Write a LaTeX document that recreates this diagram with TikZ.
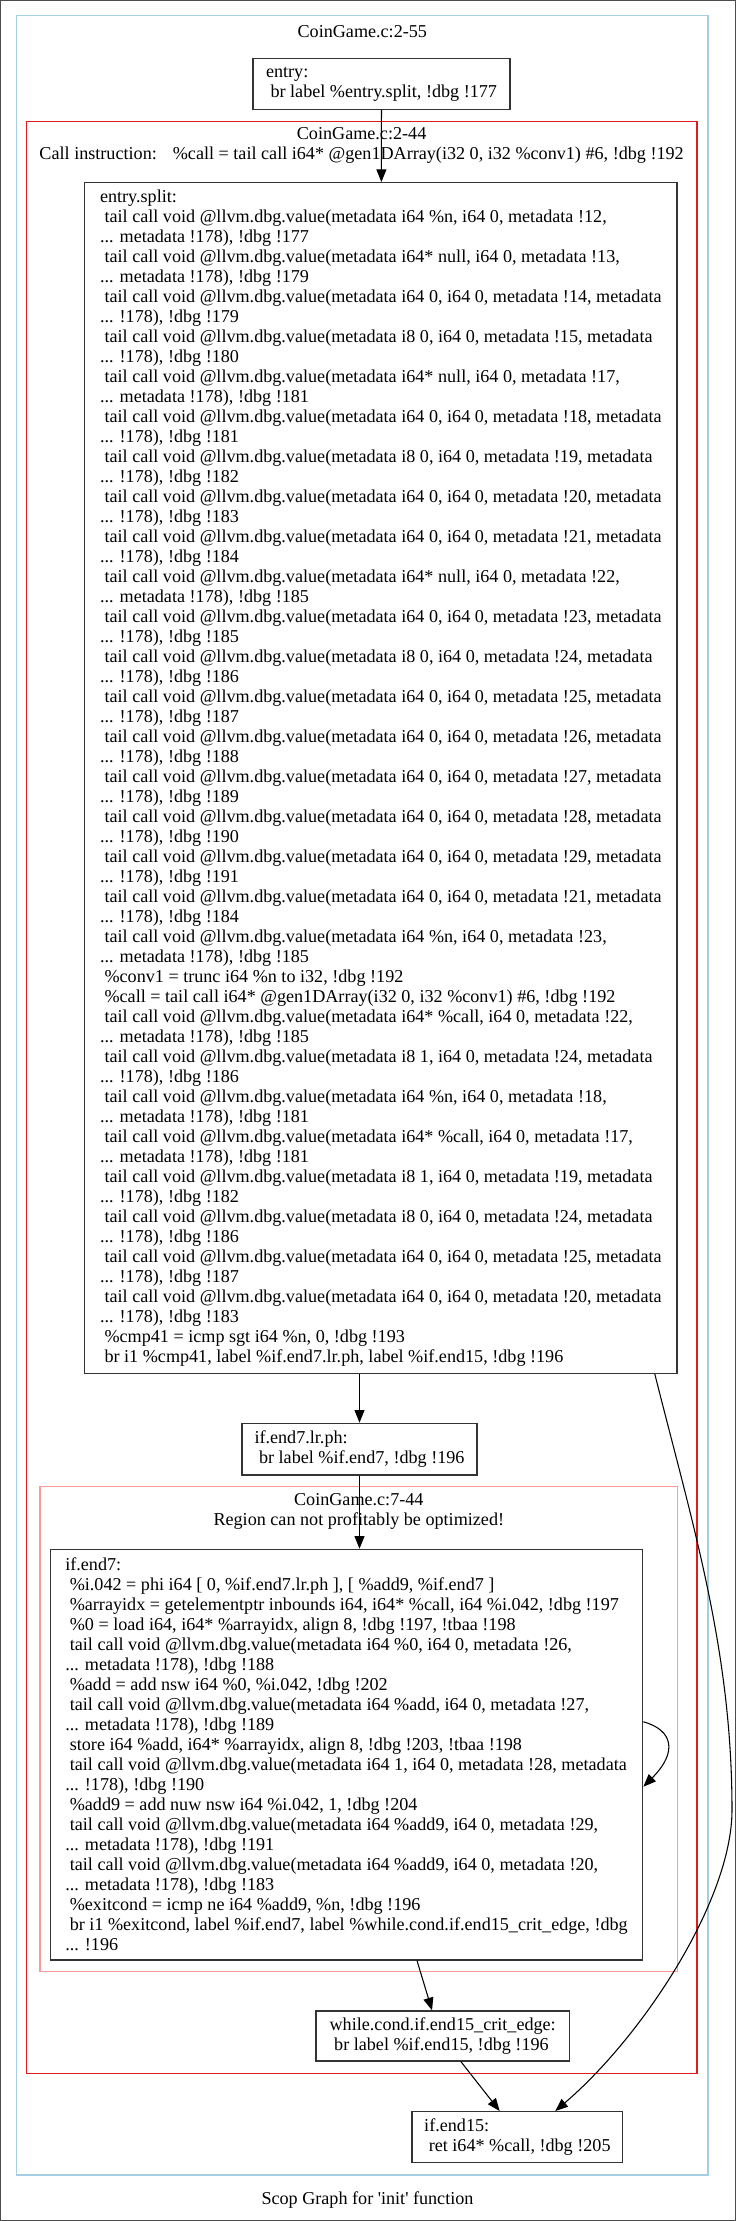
\documentclass[tikz,border=0pt]{standalone}
\usepackage{fontspec}
\setmainfont{Liberation Serif}[Ligatures=TeXOff]
\usetikzlibrary{arrows.meta}

\definecolor{scopblue}{HTML}{A6CEE3}
\definecolor{scopred}{HTML}{E31A1C}
\definecolor{scoppink}{HTML}{FB9A99}
\newcommand{\graphfont}{\fontsize{13.6pt}{15pt}\selectfont}

\begin{document}
\begin{tikzpicture}%
        [x=0.75pt, y=-0.75pt,
        block/.style={draw=black!80, line width=1pt, align=left, inner sep=0pt, font=\graphfont},
        cluster/.style={line width=1pt},
        title/.style={align=center, inner sep=0pt, font=\graphfont},
        flow/.style={black, line width=0.8pt, -{Triangle[length=9.5pt,width=7.5pt]}}]

    \useasboundingbox (0,0) rectangle (737,2221);
    \draw[black!70, line width=1pt] (0.7,0.7) rectangle (735.3,2220.3);
    %% Drawing the regions
    \draw[cluster, scopblue] (16.5,15.7) rectangle (708,2175);
    \draw[cluster, scopred] (26.3,121.3) rectangle (697,2073.3);
    \draw[cluster, scoppink] (40,1486.7) rectangle (677.5,1971.7);
    \node[title] (tmain) at (362.3,31.7) {CoinGame.c:2-55};
    \node[title] (tcall) at (361.6,145.5) {CoinGame.c:2-44\\Call instruction:\hspace{12pt}\%call = tail call i64* @gen1DArray(i32 0, i32 \%conv1) \#6, !dbg !192};
    \node[title] (tloop) at (358.8,1511.7) {CoinGame.c:7-44\\Region can not profitably be optimized!};
    \node[title] (tgraph) at (367.5,2200) {Scop Graph for 'init' function};
    %%
    %% Drawing the basic blocks
    %%
    \node[block, minimum width=192.8pt, minimum height=38pt] (entry) at (381.5,84)
        {entry:\\~br label \%entry.split, !dbg !177};
    \node[block, minimum width=444.3pt, minimum height=893pt] (esplit) at (380.8,778)
        {entry.split:\\
        ~tail call void @llvm.dbg.value(metadata i64 \%n, i64 0, metadata !12,\\
        ... metadata !178), !dbg !177\\
        ~tail call void @llvm.dbg.value(metadata i64* null, i64 0, metadata !13,\\
        ... metadata !178), !dbg !179\\
        ~tail call void @llvm.dbg.value(metadata i64 0, i64 0, metadata !14, metadata\\
        ... !178), !dbg !179\\
        ~tail call void @llvm.dbg.value(metadata i8 0, i64 0, metadata !15, metadata\\
        ... !178), !dbg !180\\
        ~tail call void @llvm.dbg.value(metadata i64* null, i64 0, metadata !17,\\
        ... metadata !178), !dbg !181\\
        ~tail call void @llvm.dbg.value(metadata i64 0, i64 0, metadata !18, metadata\\
        ... !178), !dbg !181\\
        ~tail call void @llvm.dbg.value(metadata i8 0, i64 0, metadata !19, metadata\\
        ... !178), !dbg !182\\
        ~tail call void @llvm.dbg.value(metadata i64 0, i64 0, metadata !20, metadata\\
        ... !178), !dbg !183\\
        ~tail call void @llvm.dbg.value(metadata i64 0, i64 0, metadata !21, metadata\\
        ... !178), !dbg !184\\
        ~tail call void @llvm.dbg.value(metadata i64* null, i64 0, metadata !22,\\
        ... metadata !178), !dbg !185\\
        ~tail call void @llvm.dbg.value(metadata i64 0, i64 0, metadata !23, metadata\\
        ... !178), !dbg !185\\
        ~tail call void @llvm.dbg.value(metadata i8 0, i64 0, metadata !24, metadata\\
        ... !178), !dbg !186\\
        ~tail call void @llvm.dbg.value(metadata i64 0, i64 0, metadata !25, metadata\\
        ... !178), !dbg !187\\
        ~tail call void @llvm.dbg.value(metadata i64 0, i64 0, metadata !26, metadata\\
        ... !178), !dbg !188\\
        ~tail call void @llvm.dbg.value(metadata i64 0, i64 0, metadata !27, metadata\\
        ... !178), !dbg !189\\
        ~tail call void @llvm.dbg.value(metadata i64 0, i64 0, metadata !28, metadata\\
        ... !178), !dbg !190\\
        ~tail call void @llvm.dbg.value(metadata i64 0, i64 0, metadata !29, metadata\\
        ... !178), !dbg !191\\
        ~tail call void @llvm.dbg.value(metadata i64 0, i64 0, metadata !21, metadata\\
        ... !178), !dbg !184\\
        ~tail call void @llvm.dbg.value(metadata i64 \%n, i64 0, metadata !23,\\
        ... metadata !178), !dbg !185\\
        ~\%conv1 = trunc i64 \%n to i32, !dbg !192\\
        ~\%call = tail call i64* @gen1DArray(i32 0, i32 \%conv1) \#6, !dbg !192\\
        ~tail call void @llvm.dbg.value(metadata i64* \%call, i64 0, metadata !22,\\
        ... metadata !178), !dbg !185\\
        ~tail call void @llvm.dbg.value(metadata i8 1, i64 0, metadata !24, metadata\\
        ... !178), !dbg !186\\
        ~tail call void @llvm.dbg.value(metadata i64 \%n, i64 0, metadata !18,\\
        ... metadata !178), !dbg !181\\
        ~tail call void @llvm.dbg.value(metadata i64* \%call, i64 0, metadata !17,\\
        ... metadata !178), !dbg !181\\
        ~tail call void @llvm.dbg.value(metadata i8 1, i64 0, metadata !19, metadata\\
        ... !178), !dbg !182\\
        ~tail call void @llvm.dbg.value(metadata i8 0, i64 0, metadata !24, metadata\\
        ... !178), !dbg !186\\
        ~tail call void @llvm.dbg.value(metadata i64 0, i64 0, metadata !25, metadata\\
        ... !178), !dbg !187\\
        ~tail call void @llvm.dbg.value(metadata i64 0, i64 0, metadata !20, metadata\\
        ... !178), !dbg !183\\
        ~\%cmp41 = icmp sgt i64 \%n, 0, !dbg !193\\
        ~br i1 \%cmp41, label \%if.end7.lr.ph, label \%if.end15, !dbg !196};
    \node[block, minimum width=176.3pt, minimum height=38.8pt] (lrph) at (359.5,1449.2)
        {if.end7.lr.ph:\\~br label \%if.end7, !dbg !196};
    \node[block, minimum width=444.3pt, minimum height=308pt] (end7) at (346.5,1754.7)
        {if.end7:\\
        ~\%i.042 = phi i64 [ 0, \%if.end7.lr.ph ], [ \%add9, \%if.end7 ]\\
        ~\%arrayidx = getelementptr inbounds i64, i64* \%call, i64 \%i.042, !dbg !197\\
        ~\%0 = load i64, i64* \%arrayidx, align 8, !dbg !197, !tbaa !198\\
        ~tail call void @llvm.dbg.value(metadata i64 \%0, i64 0, metadata !26,\\
        ... metadata !178), !dbg !188\\
        ~\%add = add nsw i64 \%0, \%i.042, !dbg !202\\
        ~tail call void @llvm.dbg.value(metadata i64 \%add, i64 0, metadata !27,\\
        ... metadata !178), !dbg !189\\
        ~store i64 \%add, i64* \%arrayidx, align 8, !dbg !203, !tbaa !198\\
        ~tail call void @llvm.dbg.value(metadata i64 1, i64 0, metadata !28, metadata\\
        ... !178), !dbg !190\\
        ~\%add9 = add nuw nsw i64 \%i.042, 1, !dbg !204\\
        ~tail call void @llvm.dbg.value(metadata i64 \%add9, i64 0, metadata !29,\\
        ... metadata !178), !dbg !191\\
        ~tail call void @llvm.dbg.value(metadata i64 \%add9, i64 0, metadata !20,\\
        ... metadata !178), !dbg !183\\
        ~\%exitcond = icmp ne i64 \%add9, \%n, !dbg !196\\
        ~br i1 \%exitcond, label \%if.end7, label \%while.cond.if.end15\_crit\_edge, !dbg\\
        ... !196};
    \node[block, minimum width=190pt, minimum height=37.5pt] (while) at (442.7,2036)
        {while.cond.if.end15\_crit\_edge:\\~br label \%if.end15, !dbg !196};
    \node[block, minimum width=158pt, minimum height=38.3pt] (end15) at (517.4,2137.2)
        {if.end15:\\~ret i64* \%call, !dbg !205};
    %%
    %% Drawing the edges
    %%
    \draw[flow] (entry) -- (esplit);
    \draw[flow] (esplit.south -| lrph.north) -- (lrph.north);
    \draw[flow] (lrph.south) -- (lrph.south |- end7.north);
    \draw[flow] ([yshift=24.7pt]end7.east) .. controls (673,1730) and (678,1752) .. ([yshift=-24pt]end7.east);
    \draw[flow] ([xshift=52.9pt]end7.south) -- ([xshift=-8pt]while.north);
    \draw[flow] ([xshift=13.7pt]while.south) -- ([xshift=-13.3pt]end15.north);
    \draw[flow] ([xshift=205.5pt]esplit.south) .. controls (692.7,1525) and (732,1650) .. (732,1810)
        .. controls (732,1900) and (643,2036) .. ([xshift=28.4pt]end15.north);
    %%
    \end{tikzpicture}
\end{document}
